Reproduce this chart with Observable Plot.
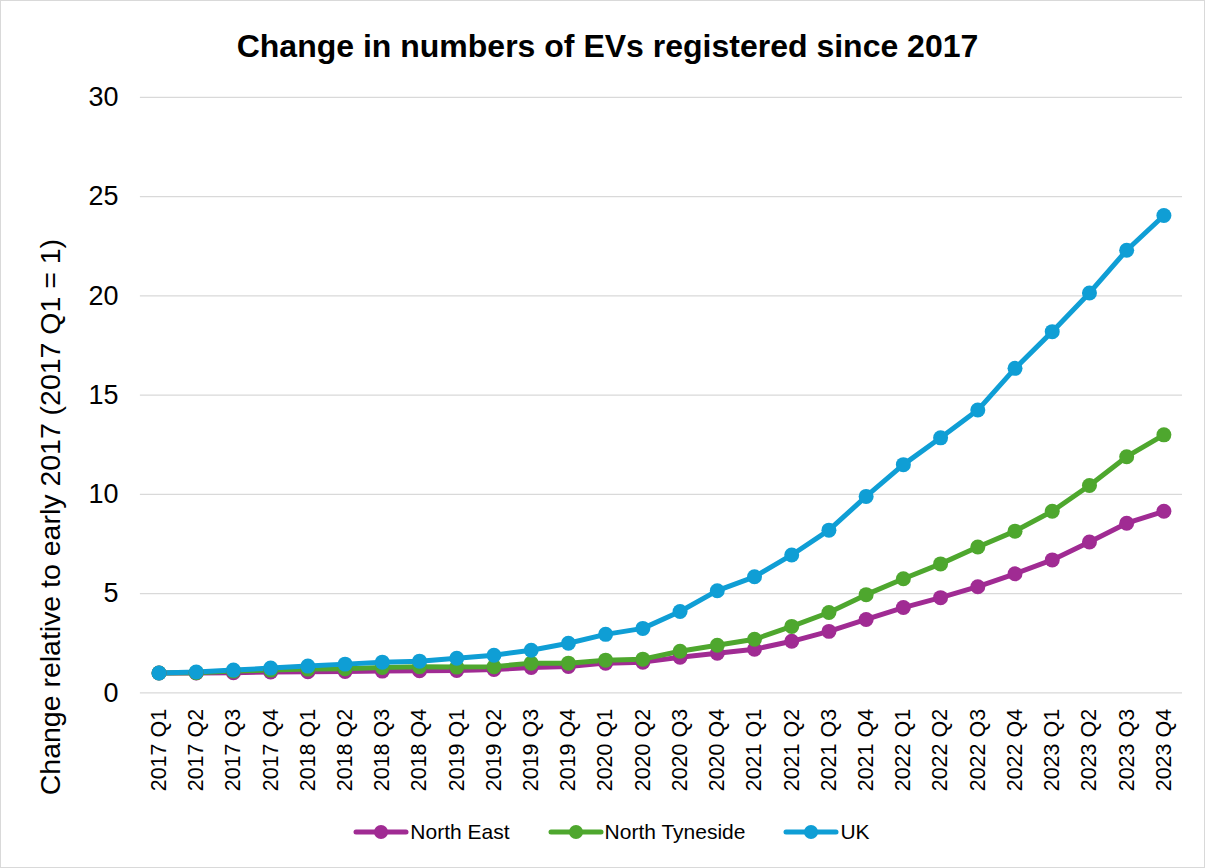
<!DOCTYPE html>
<html><head><meta charset="utf-8">
<script src="https://cdn.jsdelivr.net/npm/d3@7"></script>
<script src="https://cdn.jsdelivr.net/npm/@observablehq/plot@0.6"></script>
<style>
body{margin:0;background:#fff;font-family:"Liberation Sans",Arial,sans-serif;}
#wrap{position:relative;width:1203px;height:866px;border:1px solid #d9d9d9;overflow:hidden;}
#title{position:absolute;top:27px;left:0;width:1213px;text-align:center;font-weight:bold;font-size:32px;color:#000;}
#chart{position:absolute;top:-1px;left:-1px;}
#legend{position:absolute;top:819px;left:0;width:1221px;display:flex;justify-content:center;gap:38px;font-size:21px;color:#000;}
.item{display:flex;align-items:center;gap:1px;}
</style></head>
<body><div id="wrap"><div id="title">Change in numbers of EVs registered since 2017</div><div id="chart"></div><div id="legend"></div></div>
<script>
const quarters = ["2017 Q1","2017 Q2","2017 Q3","2017 Q4","2018 Q1","2018 Q2","2018 Q3","2018 Q4","2019 Q1","2019 Q2","2019 Q3","2019 Q4","2020 Q1","2020 Q2","2020 Q3","2020 Q4","2021 Q1","2021 Q2","2021 Q3","2021 Q4","2022 Q1","2022 Q2","2022 Q3","2022 Q4","2023 Q1","2023 Q2","2023 Q3","2023 Q4"];
const northEast = [1.0,1.0,1.02,1.05,1.07,1.08,1.1,1.12,1.13,1.18,1.28,1.33,1.5,1.55,1.8,2.0,2.2,2.6,3.1,3.7,4.3,4.8,5.35,6.0,6.7,7.6,8.55,9.15];
const northTyneside = [1.0,1.02,1.1,1.15,1.2,1.22,1.28,1.32,1.3,1.32,1.5,1.5,1.65,1.7,2.1,2.4,2.7,3.35,4.05,4.95,5.75,6.5,7.35,8.15,9.15,10.45,11.9,13.0];
const uk = [1.0,1.05,1.15,1.25,1.35,1.45,1.55,1.6,1.75,1.9,2.15,2.5,2.95,3.25,4.1,5.15,5.85,6.95,8.2,9.9,11.5,12.85,14.25,16.35,18.2,20.15,22.3,24.05];
const seriesNames = ["North East","North Tyneside","UK"];
const seriesColors = ["#A02B93","#4EA72E","#0F9ED5"];
const yTicks = [0,5,10,15,20,25,30];

const allSeries = [northEast, northTyneside, uk];
const data = [];
allSeries.forEach((vals, s) => vals.forEach((v, i) => data.push({q: quarters[i], v, s: seriesNames[s]})));

const plot = Plot.plot({
  width: 1205, height: 810,
  marginLeft: 140, marginRight: 22, marginTop: 97, marginBottom: 117,
  style: {fontFamily: '"Liberation Sans", Arial, sans-serif', background: "transparent"},
  x: {type: "point", domain: quarters, padding: 0.5, round: false, label: null},
  y: {domain: [0, 30], ticks: yTicks, label: null},
  color: {domain: seriesNames, range: seriesColors},
  marks: [
    Plot.gridY(yTicks, {stroke: "#d9d9d9", strokeOpacity: 1, strokeWidth: 1.3}),
    Plot.axisY(yTicks, {tickSize: 0, tickPadding: 22, fontSize: 27, fill: "#000", label: null}),
    Plot.axisX({tickSize: 0, tickRotate: -90, tickPadding: 16, fontSize: 21.5, fill: "#000", label: null}),
    Plot.text(["Change relative to early 2017 (2017 Q1 = 1)"], {frameAnchor: "left", textAnchor: "middle", dx: -90, dy: 122, rotate: -90, fontSize: 28.5, fill: "#000"}),
    Plot.line(data, {x: "q", y: "v", z: "s", stroke: "s", strokeWidth: 5, curve: "linear"}),
    Plot.dot(data, {x: "q", y: "v", fill: "s", r: 7.5, stroke: null})
  ]
});
document.getElementById("chart").appendChild(plot);

const legend = document.getElementById("legend");
seriesNames.forEach((n, i) => {
  const d = document.createElement("div"); d.className = "item";
  d.innerHTML = `<svg width="56" height="24"><line x1="3" y1="12" x2="53" y2="12" stroke="${seriesColors[i]}" stroke-width="5" stroke-linecap="round"/><circle cx="28" cy="12" r="7" fill="${seriesColors[i]}"/></svg><span>${n}</span>`;
  legend.appendChild(d);
});
</script></body></html>
